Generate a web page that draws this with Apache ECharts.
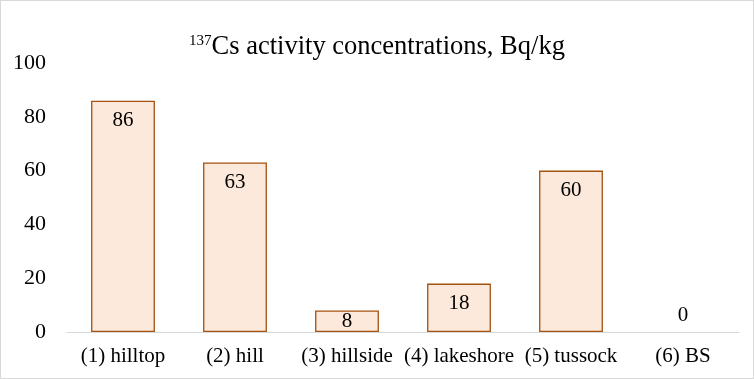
<!DOCTYPE html>
<html><head><meta charset="utf-8">
<script src="https://cdn.jsdelivr.net/npm/echarts@6/dist/echarts.min.js"></script>
<style>
html,body{margin:0;padding:0;background:#fff;}
#c{width:754px;height:379px;box-sizing:border-box;border:1px solid #d9d9d9;}
</style></head><body>
<div id="c"></div>
<script>
const categories = ['(1) hilltop', '(2) hill', '(3) hillside', '(4) lakeshore', '(5) tussock', '(6) BS'];
const values = [86, 63, 8, 18, 60, 0];
const yTicks = [0, 20, 40, 60, 80, 100];

const font = '"Liberation Serif", "Times New Roman", serif';
const chart = echarts.init(document.getElementById('c'));
chart.setOption({
  animation: false,
  title: {
    text: '{sup|137}{main|Cs activity concentrations, Bq/kg}',
    left: 'center',
    top: 28,
    textStyle: {
      fontWeight: 'normal',
      rich: {
        sup: { fontFamily: font, fontSize: 15, fontWeight: 'normal', color: '#000', verticalAlign: 'top', padding: [0, 0, 11, 0] },
        main: { fontFamily: font, fontSize: 26.5, fontWeight: 'normal', color: '#000' }
      }
    }
  },
  grid: { left: 66, right: 14, top: 62, bottom: 46 },
  xAxis: {
    type: 'category',
    data: categories,
    axisLine: { lineStyle: { color: '#d9d9d9', width: 1 } },
    axisTick: { show: false },
    axisLabel: { fontFamily: font, fontSize: 21, color: '#000', margin: 14, interval: 0 }
  },
  yAxis: {
    type: 'value',
    min: yTicks[0], max: yTicks[yTicks.length - 1], interval: 20,
    axisLine: { show: false },
    axisTick: { show: false },
    splitLine: { show: false },
    axisLabel: { fontFamily: font, fontSize: 22, color: '#000', margin: 21 }
  },
  series: [{
    type: 'bar',
    barWidth: '57%',
    data: values.map(v => {
      if (v === 0) return { value: v, itemStyle: { borderWidth: 0 }, label: { position: 'top', distance: 6 } };
      if (v < 10) return { value: v, label: { position: 'inside' } };
      return v;
    }),
    itemStyle: { color: '#fce9db', borderColor: '#a3520f', borderWidth: 1.3 },
    label: {
      show: true,
      position: 'insideTop',
      distance: 9,
      fontFamily: font,
      fontSize: 21,
      color: '#000'
    }
  }]
});
</script>
</body></html>
